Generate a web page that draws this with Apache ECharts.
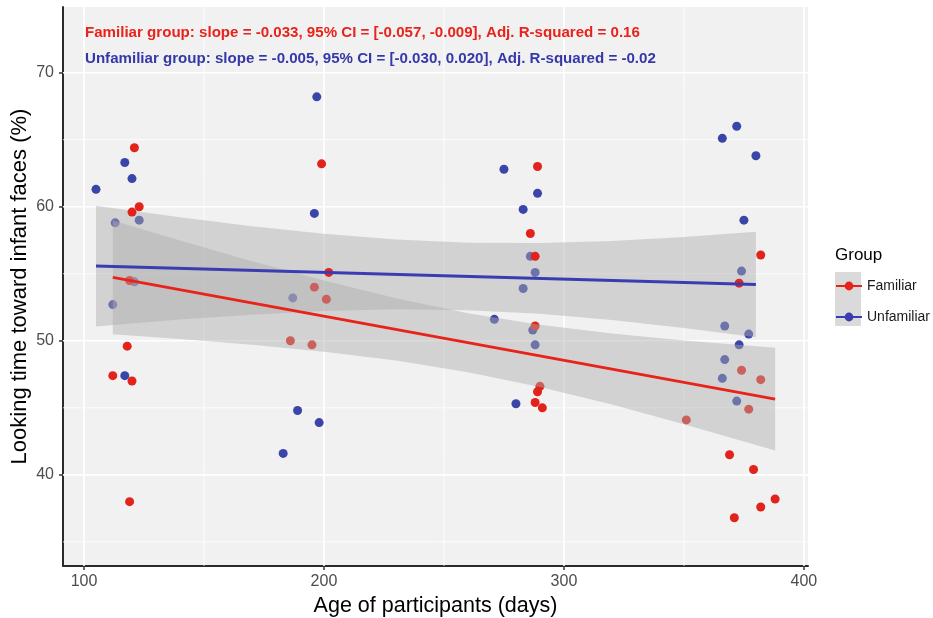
<!DOCTYPE html>
<html>
<head>
<meta charset="utf-8">
<script src="https://cdn.jsdelivr.net/npm/echarts@6/dist/echarts.min.js"></script>
<style>
html,body{margin:0;padding:0;background:#fff;}
#chart{width:933px;height:618px;}
</style>
</head>
<body>
<div id="chart"></div>
<script>
// ---- Data ----
const familiarAge = [121,199,123,120,202,196,201,119,118,112,120,119,186,195,289,286,288,288,290,289,288,291,382,373,374,382,377,351,369,379,388,382,371];
const familiarLook = [64.4,63.2,60.0,59.6,55.1,54.0,53.1,54.5,49.6,47.4,47.0,38.0,50.0,49.7,63.0,58.0,56.3,51.1,46.6,46.2,45.4,45.0,56.4,54.3,47.8,47.1,44.9,44.1,41.5,40.4,38.2,37.6,36.8];
const unfamiliarAge = [197,117,120,105,196,113,123,121,187,112,117,189,198,183,275,289,283,286,288,283,271,287,288,280,372,366,380,375,374,367,377,373,367,366,372];
const unfamiliarLook = [68.2,63.3,62.1,61.3,59.5,58.8,59.0,54.4,53.2,52.7,47.4,44.8,43.9,41.6,62.8,61.0,59.8,56.3,55.1,53.9,51.6,50.8,49.7,45.3,66.0,65.1,63.8,59.0,55.2,51.1,50.5,49.7,48.6,47.2,45.5];

// fitted lines (end points)
const familiarFitAge = [112, 388];
const familiarFitLook = [54.73, 45.65];
const unfamiliarFitAge = [105, 380];
const unfamiliarFitLook = [55.57, 54.20];

// 95% CI ribbons
const familiarBandAge = [112,140,170,200,230,260,290,320,350,388];
const familiarBandLow = [50.48,50.13,49.70,49.19,48.53,47.66,46.55,45.24,43.78,41.81];
const familiarBandHigh = [58.98,57.49,55.94,54.49,53.17,52.06,51.19,50.54,50.02,49.49];
const unfamiliarBandAge = [105,140,170,200,230,260,290,320,350,380];
const unfamiliarBandLow = [51.07,51.58,51.95,52.22,52.35,52.28,52.01,51.55,50.95,50.27];
const unfamiliarBandHigh = [60.07,59.22,58.55,57.98,57.55,57.32,57.29,57.45,57.75,58.13];

// ticks
const xTicks = [100,200,300,400];
const xMinor = [150,250,350];
const yTicks = [40,50,60,70];
const yMinor = [35,45,55,65];

const groupNames = ['Familiar','Unfamiliar'];
const annotations = [
  'Familiar group: slope = -0.033, 95% CI = [-0.057, -0.009], Adj. R-squared = 0.16',
  'Unfamiliar group: slope = -0.005, 95% CI = [-0.030, 0.020], Adj. R-squared = -0.02'
];

// ---- Styling / layout ----
const X_MIN = 91.25, X_MAX = 401.7, Y_MIN = 33.2, Y_MAX = 74.9;
const RED = '#E2231B', BLUE = '#3A45A8';
const RED_LINE = '#E8231A', BLUE_LINE = '#3A3DB2';
const RIBBON = 'rgba(173,173,173,0.45)';
const FONT = '"Liberation Sans", Arial, sans-serif';

function zip(a,b){ return a.map((v,i)=>[v,b[i]]); }

function gridSeries(values, horizontal, width, z){
  return {
    type:'custom', coordinateSystem:'cartesian2d', silent:true, z:z,
    data: values.map(v=>[v]),
    renderItem:function(params, api){
      const v = api.value(0);
      const cs = params.coordSys;
      let shape;
      if (horizontal){
        const y = api.coord([X_MIN, v])[1];
        shape = {x1:cs.x, y1:y, x2:cs.x+cs.width, y2:y};
      } else {
        const x = api.coord([v, Y_MIN])[0];
        shape = {x1:x, y1:cs.y, x2:x, y2:cs.y+cs.height};
      }
      return {type:'line', shape:shape, style:{stroke:'#ffffff', lineWidth:width}};
    }
  };
}

function bandSeries(ages, low, high, z){
  return {
    type:'custom', coordinateSystem:'cartesian2d', silent:true, z:z,
    data:[[ages[0], low[0]]],
    renderItem:function(params, api){
      const pts = [];
      for (let i=0;i<ages.length;i++) pts.push(api.coord([ages[i], high[i]]));
      for (let i=ages.length-1;i>=0;i--) pts.push(api.coord([ages[i], low[i]]));
      return {type:'polygon', shape:{points:pts}, style:{fill:RIBBON}};
    }
  };
}

const chart = echarts.init(document.getElementById('chart'), null, {renderer:'canvas'});

const option = {
  animation:false,
  backgroundColor:'#ffffff',
  grid:{left:63, right:125, top:7, bottom:52, show:true, backgroundColor:'#F2F1F2', borderWidth:0,
        containLabel:false, outerBoundsMode:'none'},
  xAxis:{
    type:'value', min:X_MIN, max:X_MAX,
    name:'Age of participants (days)', nameLocation:'middle', nameGap:29, nameMoveOverlap:false,
    nameTextStyle:{fontFamily:FONT, fontSize:21.5, color:'#000'},
    axisLine:{show:true, onZero:false, lineStyle:{color:'#2b2b2b', width:2}},
    axisTick:{show:true, length:4, customValues:xTicks, lineStyle:{color:'#333', width:1.5}},
    axisLabel:{customValues:xTicks, margin:8, fontFamily:FONT, fontSize:16, color:'#4d4d4d'},
    splitLine:{show:false}
  },
  yAxis:{
    type:'value', min:Y_MIN, max:Y_MAX,
    name:'Looking time toward infant faces (%)', nameLocation:'middle', nameGap:32, nameMoveOverlap:false,
    nameTextStyle:{fontFamily:FONT, fontSize:22, color:'#000'},
    axisLine:{show:true, onZero:false, lineStyle:{color:'#2b2b2b', width:2}},
    axisTick:{show:true, length:4, customValues:yTicks, lineStyle:{color:'#333', width:1.5}},
    axisLabel:{customValues:yTicks, margin:9, fontFamily:FONT, fontSize:16, color:'#4d4d4d'},
    splitLine:{show:false}
  },
  legend:{
    orient:'vertical', left:835, top:279, padding:0,
    itemWidth:26, itemHeight:11, itemGap:17,
    data:groupNames,
    textStyle:{fontFamily:FONT, fontSize:14, color:'#1a1a1a'},
    selectedMode:false
  },
  graphic:[
    {type:'rect', left:835, top:272, shape:{width:26, height:54}, style:{fill:'#DADADA'}, z:-1, silent:true},
    {type:'text', left:835, top:247, z:100, style:{text:'Group', font:'17px '+FONT, fill:'#000'}, silent:true},
    {type:'text', left:85, top:25, z:100, style:{text:annotations[0], font:'bold 15.1px '+FONT, fill:'#E8231A'}, silent:true},
    {type:'text', left:85, top:51, z:100, style:{text:annotations[1], font:'bold 15.1px '+FONT, fill:'#3539A8'}, silent:true}
  ],
  series:[
    {name:groupNames[0], type:'line', z:8, data:zip(familiarFitAge, familiarFitLook),
     symbol:'circle', showSymbol:false, lineStyle:{color:RED_LINE, width:3}, itemStyle:{color:RED_LINE, borderWidth:0}, silent:true},
    {name:groupNames[1], type:'line', z:8, data:zip(unfamiliarFitAge, unfamiliarFitLook),
     symbol:'circle', showSymbol:false, lineStyle:{color:BLUE_LINE, width:3}, itemStyle:{color:BLUE_LINE, borderWidth:0}, silent:true},
    gridSeries(yMinor, true, 0.8, 1),
    gridSeries(xMinor, false, 0.8, 1),
    gridSeries(yTicks, true, 1.6, 1),
    gridSeries(xTicks, false, 1.6, 1),
    {name:groupNames[1], type:'scatter', z:3, data:zip(unfamiliarAge, unfamiliarLook), symbolSize:9,
     itemStyle:{color:BLUE, opacity:1}, silent:true},
    bandSeries(unfamiliarBandAge, unfamiliarBandLow, unfamiliarBandHigh, 4),
    {name:groupNames[0], type:'scatter', z:5, data:zip(familiarAge, familiarLook), symbolSize:9,
     itemStyle:{color:RED, opacity:1}, silent:true},
    bandSeries(familiarBandAge, familiarBandLow, familiarBandHigh, 6)
  ]
};
chart.setOption(option);
</script>
</body>
</html>
